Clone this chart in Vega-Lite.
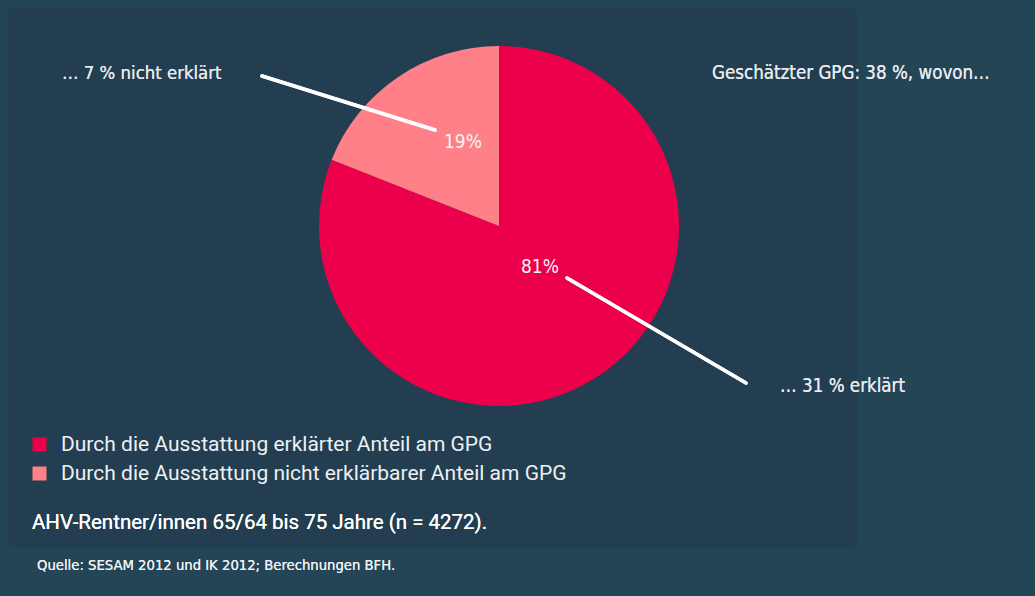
{
  "$schema": "https://vega.github.io/schema/vega-lite/v6.json",
  "width": 849,
  "height": 540,
  "autosize": {"type": "none"},
  "padding": {"left": 8, "top": 8, "right": 178, "bottom": 48},
  "background": "#244556",
  "config": {
    "view": {"fill": "#223e50", "stroke": null, "cornerRadius": 6},
    "font": "DejaVu Sans Condensed"
  },
  "data": {
    "values": [
      {"anteil": "Durch die Ausstattung erklärter Anteil am GPG", "wert": 81, "label": "81%", "idx": 1},
      {"anteil": "Durch die Ausstattung nicht erklärbarer Anteil am GPG", "wert": 19, "label": "19%", "idx": 2}
    ]
  },
  "encoding": {
    "x": {"type": "quantitative", "scale": {"domain": [8, 857]}, "axis": null},
    "y": {"type": "quantitative", "scale": {"domain": [8, 548], "reverse": true}, "axis": null}
  },
  "layer": [
    {
      "mark": {"type": "arc", "outerRadius": 180},
      "encoding": {
        "x": {"datum": 499, "type": "quantitative"},
        "y": {"datum": 226, "type": "quantitative"},
        "theta": {"field": "wert", "type": "quantitative", "stack": true},
        "order": {"field": "idx", "type": "quantitative"},
        "color": {
          "field": "anteil",
          "type": "nominal",
          "scale": {
            "domain": ["Durch die Ausstattung erklärter Anteil am GPG", "Durch die Ausstattung nicht erklärbarer Anteil am GPG"],
            "range": ["#ec004b", "#ff8088"]
          },
          "legend": {
            "orient": "none",
            "legendX": 21,
            "legendY": 426,
            "title": null,
            "symbolType": "square",
            "symbolSize": 196,
            "symbolStrokeWidth": 0,
            "symbolOpacity": 1,
            "labelFont": "Roboto",
            "labelFontSize": 21,
            "labelColor": "#eef0f3",
            "labelOffset": 11,
            "rowPadding": 7,
            "padding": 0,
            "labelLimit": 600
          }
        }
      }
    },
    {
      "mark": {"type": "rule", "color": "#ffffff", "strokeWidth": 3.5, "strokeCap": "round"},
      "encoding": {
        "x": {"datum": 262, "type": "quantitative"},
        "y": {"datum": 76, "type": "quantitative"},
        "x2": {"datum": 435},
        "y2": {"datum": 130}
      }
    },
    {
      "mark": {"type": "rule", "color": "#ffffff", "strokeWidth": 3.5, "strokeCap": "round"},
      "encoding": {
        "x": {"datum": 567, "type": "quantitative"},
        "y": {"datum": 278, "type": "quantitative"},
        "x2": {"datum": 746},
        "y2": {"datum": 383}
      }
    },
    {
      "transform": [{"filter": "datum.idx == 2"}],
      "mark": {"type": "text", "fontSize": 19, "color": "#f4f4f6", "align": "center", "baseline": "middle"},
      "encoding": {
        "x": {"datum": 463, "type": "quantitative"},
        "y": {"datum": 142, "type": "quantitative"},
        "text": {"field": "label"}
      }
    },
    {
      "transform": [{"filter": "datum.idx == 1"}],
      "mark": {"type": "text", "fontSize": 19, "color": "#f4f4f6", "align": "center", "baseline": "middle"},
      "encoding": {
        "x": {"datum": 540, "type": "quantitative"},
        "y": {"datum": 267, "type": "quantitative"},
        "text": {"field": "label"}
      }
    },
    {
      "mark": {"type": "text", "text": "… 7 % nicht erklärt", "fontSize": 18.4, "color": "#e6e9ee", "align": "left", "baseline": "middle"},
      "encoding": {
        "x": {"datum": 62, "type": "quantitative"},
        "y": {"datum": 73, "type": "quantitative"}
      }
    },
    {
      "mark": {"type": "text", "text": "Geschätzter GPG: 38 %, wovon…", "fontSize": 18.6, "color": "#e6e9ee", "align": "left", "baseline": "middle"},
      "encoding": {
        "x": {"datum": 712, "type": "quantitative"},
        "y": {"datum": 73, "type": "quantitative"}
      }
    },
    {
      "mark": {"type": "text", "text": "… 31 % erklärt", "fontSize": 18.6, "color": "#e6e9ee", "align": "left", "baseline": "middle"},
      "encoding": {
        "x": {"datum": 780, "type": "quantitative"},
        "y": {"datum": 386, "type": "quantitative"}
      }
    },
    {
      "mark": {"type": "text", "text": "AHV-Rentner/innen 65/64 bis 75 Jahre (n = 4272).", "font": "Roboto", "fontSize": 20.5, "color": "#ffffff", "align": "left", "baseline": "middle"},
      "encoding": {
        "x": {"datum": 32, "type": "quantitative"},
        "y": {"datum": 523, "type": "quantitative"}
      }
    },
    {
      "mark": {"type": "text", "text": "Quelle: SESAM 2012 und IK 2012; Berechnungen BFH.", "fontSize": 14.7, "color": "#eef0f3", "align": "left", "baseline": "middle"},
      "encoding": {
        "x": {"datum": 37, "type": "quantitative"},
        "y": {"datum": 566, "type": "quantitative"}
      }
    }
  ]
}
